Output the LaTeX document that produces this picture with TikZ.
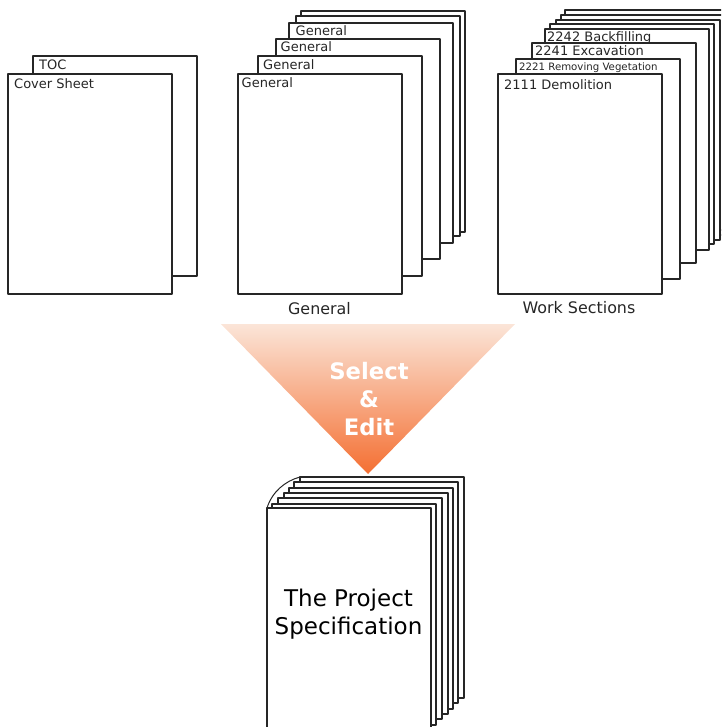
\documentclass[tikz,border=0pt]{standalone}
\usepackage{fontspec}
\setmainfont{DejaVu Sans}
\definecolor{ink}{HTML}{262626}
\definecolor{funneltop}{HTML}{FBE5D8}
\definecolor{funnelbot}{HTML}{F46F32}
\tikzset{
  x=1pt,y=-1pt,
  page/.style={draw=ink,fill=white,line width=2.7pt,line join=round},
  lab/.style={anchor=base west,inner sep=0pt,text=ink,font=\fontsize{13}{15}\selectfont},
  small/.style={lab,font=\fontsize{10.2}{12}\selectfont},
  captext/.style={anchor=base,inner sep=0pt,text=ink,font=\fontsize{15.9}{18}\selectfont},
  big/.style={anchor=center,inner sep=0pt,text=white,font=\bfseries\fontsize{22.7}{26}\selectfont},
  title/.style={anchor=center,inner sep=0pt,text=black,align=center,font=\fontsize{23}{28}\selectfont},
}
\newcommand{\pagesheet}[3]{\draw[page] (#1,#2) rectangle (#1+164,#2+#3);}
\begin{document}
\begin{tikzpicture}
\useasboundingbox (0,0) rectangle (721,727);
\clip (0,0) rectangle (721,727);
% cover
\pagesheet{33}{56}{220}
\node[lab] (toc) at (39,70) {TOC};
\pagesheet{8}{74}{220}
\node[lab] (cover) at (14,88.5) {Cover Sheet};
% general
\pagesheet{301}{11}{221}
\pagesheet{296}{16}{220}
\pagesheet{289}{23}{220}
\node[lab] (g4) at (295.5,36) {General};
\pagesheet{276}{39}{220}
\node[lab] (g3) at (280.5,52) {General};
\pagesheet{258}{56}{220}
\node[lab] (g2) at (263,69.5) {General};
\pagesheet{238}{74}{220}
\node[lab] (g1) at (241.5,87.5) {General};
\node[captext] (gencap) at (319.5,314.5) {General};
% work
\pagesheet{565}{10}{220}
\pagesheet{561}{15}{220}
\pagesheet{556}{20}{220}
\pagesheet{550}{24}{220}
\pagesheet{545}{29}{221}
\node[lab] (w4) at (547,41.5) {2242 Backfilling};
\pagesheet{532}{43}{220}
\node[lab] (w3) at (535,55.5) {2241 Excavation};
\pagesheet{516}{59}{220}
\node[small] (w2) at (519,71) {2221 Removing Vegetation};
\pagesheet{498}{74}{220}
\node[lab] (w1) at (504,89.5) {2111 Demolition};
\node[captext] (workcap) at (579,313) {Work Sections};
% funnel
\shade[top color=funneltop,bottom color=funnelbot] (221,324) -- (515,324) -- (368,474) -- cycle;
\node[big] (sel) at (369,371) {Select};
\node[big] (amp) at (369,399) {\&};
\node[big] (edit) at (369,427) {Edit};
% project
\pagesheet{300}{477}{221}
\pagesheet{294}{482}{221}
\pagesheet{289}{488}{221}
\pagesheet{284}{493}{221}
\pagesheet{278}{498}{221}
\pagesheet{272}{504}{221}
\draw[ink,line width=1pt] (267,508) .. controls (272,492) and (285,481) .. (300,477);
\draw[page] (267,508) rectangle (431,740);
\node[title] (proj) at (348.5,614.5) {The Project\\Specification};
\end{tikzpicture}
\end{document}
